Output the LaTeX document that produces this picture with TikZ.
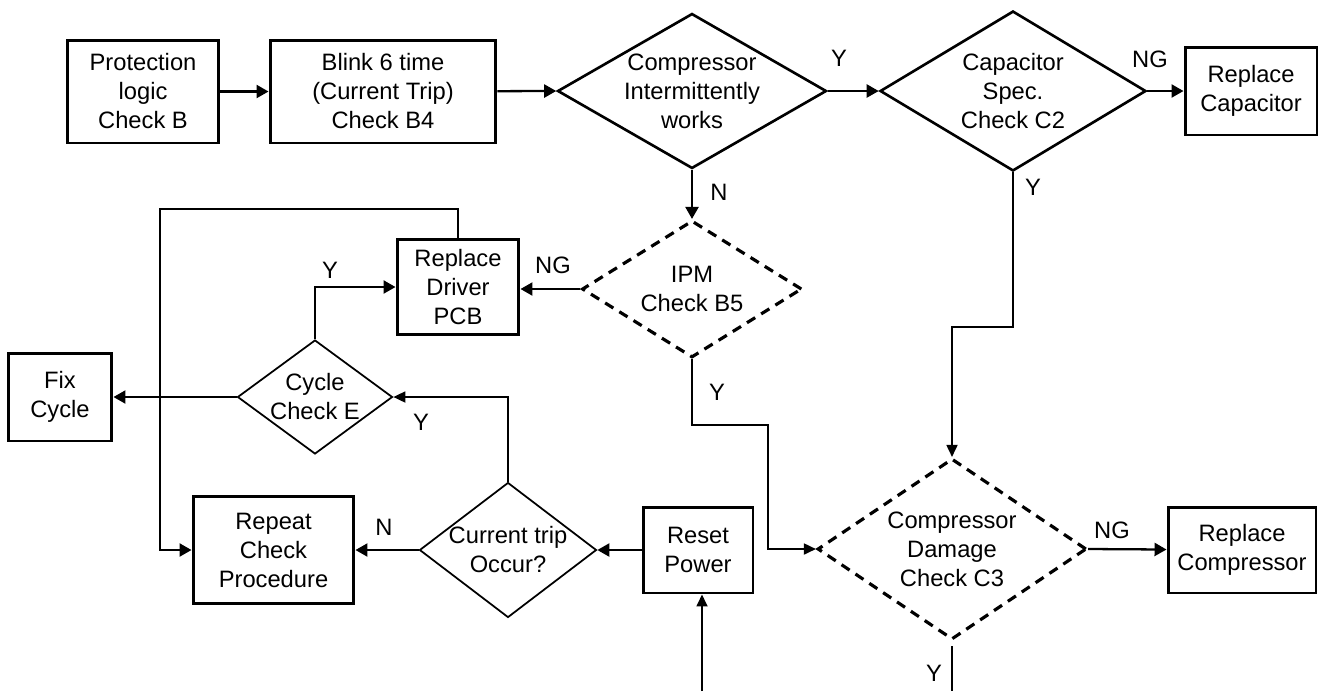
\documentclass[tikz,border=0pt]{standalone}
\usepackage{fontspec}
\setmainfont{Liberation Sans}
\usetikzlibrary{arrows.meta}
\usetikzlibrary{shapes.geometric}
\tikzset{
  flowbox/.style={draw, line width=1.7pt, align=center, inner sep=0pt},
  decide/.style={draw, diamond, line width=1.5pt, inner sep=0pt},
  thindecide/.style={decide, line width=1pt},
  dashdecide/.style={decide, line width=1.8pt, dash pattern=on 5.5pt off 4pt},
  flow/.style={line width=1.3pt, -{Triangle[length=0.24cm, width=0.26cm]}},
  route/.style={line width=1pt},
}

\begin{document}
\begin{tikzpicture}[x=0.02cm, y=-0.02cm, font=\fontsize{13.5}{16.5}\selectfont]
    \useasboundingbox (0,0) rectangle (1319,691);
    % top row
    \node[flowbox, minimum width=3.04cm, minimum height=2.06cm] (prot) at (143,91.5) {Protection\\logic\\Check B};
    \node[flowbox, minimum width=4.52cm, minimum height=2.06cm] (blink) at (383,91.5) {Blink 6 time\\(Current Trip)\\Check B4};
    \node[decide, minimum width=5.38cm, minimum height=3.1cm, label={[align=center]center:Compressor\\Intermittently\\works}] (cmp) at (692,91) {};
    \node[decide, minimum width=5.32cm, minimum height=3.2cm, label={[align=center]center:Capacitor\\Spec.\\Check C2}] (cap) at (1013,91) {};
    \node[flowbox, minimum width=2.64cm, minimum height=1.76cm] (repcap) at (1251,91) {Replace\\Capacitor};
    % middle
    \node[dashdecide, minimum width=4.4cm, minimum height=2.74cm, label={[align=center]center:IPM\\Check B5}] (ipm) at (692,289) {};
    \node[flowbox, minimum width=2.44cm, minimum height=1.9cm] (driver) at (458,287) {Replace\\Driver\\PCB};
    \node[thindecide, minimum width=3.1cm, minimum height=2.28cm, label={[align=center]center:Cycle\\Check E}] (cycle) at (315,397) {};
    \node[flowbox, minimum width=2.08cm, minimum height=1.76cm] (fix) at (60,397) {Fix\\Cycle};
    % bottom row
    \node[flowbox, minimum width=3.22cm, minimum height=2.14cm] (repeat) at (273.5,550) {Repeat\\Check\\Procedure};
    \node[thindecide, minimum width=3.54cm, minimum height=2.7cm, label={[align=center]center:Current trip\\Occur?}] (trip) at (508,550) {};
    \node[flowbox, minimum width=2.2cm, minimum height=1.72cm] (reset) at (698,550) {Reset\\Power};
    \node[dashdecide, minimum width=5.38cm, minimum height=3.62cm, label={[align=center]center:Compressor\\Damage\\Check C3}] (damage) at (952,549) {};
    \node[flowbox, minimum width=2.96cm, minimum height=1.72cm] (repcomp) at (1242,550) {Replace\\Compressor};

    \coordinate (capbend) at (1013,327);
    \coordinate (ipmbend) at (768,425);
    \coordinate (loopcorner) at (160,209);
    \coordinate (pwr) at (702,691);
    \coordinate (dmgout) at (952,691);

    \draw[flow] (prot) -- (blink);
    \draw[flow] (blink) -- (cmp.west);
    \draw[flow] (cmp.east) -- (cap.west);
    \draw[flow] (cap.east) -- (repcap);
    \draw[flow] (cmp.south) -- (ipm.north);
    \draw[flow] (ipm.west) -- (ipm.west -| driver.east);
    \draw[route, -{Triangle[length=0.24cm, width=0.22cm]}] (cap.south) -- (capbend) -| (damage.north);
    \draw[route, -{Triangle[length=0.24cm, width=0.22cm]}] (ipm.south) |- (ipmbend) |- (damage.west);
    \draw[flow] (damage.east) -- (repcomp);
    \draw[route] ([yshift=-0.1cm]damage.south) -- (dmgout);
    \draw[route, -{Triangle[length=0.24cm, width=0.22cm]}] (pwr) -- (pwr |- reset.south);
    \draw[flow] (reset) -- (trip.east);
    \draw[flow] (trip.west) -- (repeat);
    \draw[route, -{Triangle[length=0.24cm, width=0.22cm]}] (trip.north) |- (cycle.east);
    \draw[flow] (cycle.west) -- (fix);
    \draw[flow] (cycle.north) |- (driver.west);
    \draw[flow] (driver.north) |- (loopcorner) |- (repeat.west);

    % branch labels
    \node (ycmp) at (839,58) {Y};
    \node (ngcap) at (1150,59) {NG};
    \node (ncmp) at (719,192) {N};
    \node (ycap) at (1033,187) {Y};
    \node (ngipm) at (553,265) {NG};
    \node (ycycle) at (330,270) {Y};
    \node (yipm) at (717,392) {Y};
    \node (ytrip) at (421,422) {Y};
    \node (ntrip) at (384,527) {N};
    \node (ngdmg) at (1112,530) {NG};
    \node (ydmg) at (934,673) {Y};
\end{tikzpicture}
\end{document}
